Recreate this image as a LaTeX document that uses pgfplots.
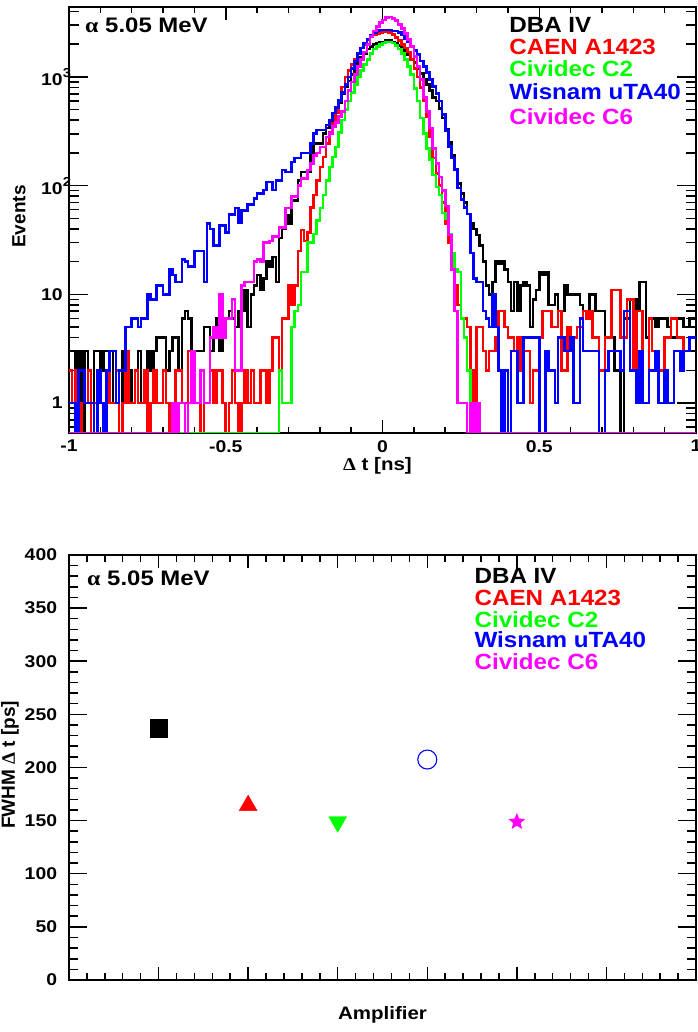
\documentclass[border=0pt]{standalone}
\usepackage{pgfplots}
\pgfplotsset{compat=1.18}
\usepackage{pgfplotstable}
\usepackage{fontspec}
\setmainfont{Liberation Sans}
\newfontfamily\symf{Liberation Serif}
\definecolor{rblack}{RGB}{0,0,0}
\definecolor{rred}{RGB}{255,0,0}
\definecolor{rgreen}{RGB}{0,255,0}
\definecolor{rblue}{RGB}{0,0,255}
\definecolor{rmag}{RGB}{255,0,255}
\newcommand\tkf{\fontsize{17}{17}\selectfont\bfseries}
\newcommand\lbf{\fontsize{18}{18}\selectfont\bfseries}
\newcommand\lbyf{\fontsize{19}{19}\selectfont\bfseries}
\newcommand\ttf{\fontsize{21}{21}\selectfont\bfseries}
\newcommand\lgf{\fontsize{22}{22}\selectfont\bfseries}
\newcommand\ex[1]{10\rlap{\raisebox{8pt}{\fontsize{13}{13}\selectfont\bfseries #1}}}

\pgfdeclareplotmark{rootstar}{%
  \pgfpathmoveto{\pgfpointpolar{90}{\pgfplotmarksize}}%
  \pgfpathlineto{\pgfpointpolar{126}{0.45*\pgfplotmarksize}}%
  \pgfpathlineto{\pgfpointpolar{162}{\pgfplotmarksize}}%
  \pgfpathlineto{\pgfpointpolar{198}{0.45*\pgfplotmarksize}}%
  \pgfpathlineto{\pgfpointpolar{234}{\pgfplotmarksize}}%
  \pgfpathlineto{\pgfpointpolar{270}{0.45*\pgfplotmarksize}}%
  \pgfpathlineto{\pgfpointpolar{306}{\pgfplotmarksize}}%
  \pgfpathlineto{\pgfpointpolar{342}{0.45*\pgfplotmarksize}}%
  \pgfpathlineto{\pgfpointpolar{18}{\pgfplotmarksize}}%
  \pgfpathlineto{\pgfpointpolar{54}{0.45*\pgfplotmarksize}}%
  \pgfpathclose
  \pgfusepathqfill}

% 200 bins of 0.01 ns from -1 to 1 (last row repeats the last bin)
\pgfplotstableread[row sep=\\,header=false]{
3\\3\\2\\3\\0\\3\\2\\1\\3\\3\\
2\\3\\3\\1\\3\\2\\0\\3\\3\\2\\
1\\2\\3\\1\\2\\3\\2\\3\\4\\4\\
4\\2\\3\\4\\4\\2\\6\\7\\6\\3\\
3\\3\\3\\5\\5\\3\\5\\6\\3\\6\\
6\\7\\6\\5\\7\\7\\11\\5\\10\\12\\
15\\11\\14\\20\\18\\22\\13\\33\\40\\53\\
45\\73\\73\\112\\133\\133\\133\\200\\245\\245\\
245\\300\\340\\375\\430\\465\\575\\700\\810\\920\\
1050\\1200\\1350\\1500\\1650\\1800\\1900\\2000\\2050\\2100\\
2100\\2150\\2150\\2100\\2050\\1950\\1850\\1700\\1600\\1450\\
1350\\1200\\1080\\950\\850\\750\\650\\600\\510\\420\\
330\\250\\190\\140\\105\\85\\70\\55\\45\\40\\
35\\28\\20\\12\\10\\13\\20\\19\\20\\17\\
13\\7\\13\\7\\12\\13\\12\\5\\9\\11\\
16\\15\\16\\8\\8\\10\\7\\7\\12\\10\\
10\\10\\10\\8\\7\\7\\10\\10\\7\\7\\
7\\4\\4\\4\\2\\2\\0\\6\\6\\9\\
9\\7\\13\\13\\4\\6\\6\\5\\6\\6\\
6\\5\\4\\4\\6\\6\\5\\5\\6\\6\\
6\\
}\tblack

\pgfplotstableread[row sep=\\,header=false]{
2\\1\\2\\0\\1\\1\\2\\0\\1\\2\\
1\\0\\2\\1\\1\\2\\0\\1\\3\\1\\
1\\2\\1\\1\\2\\0\\1\\2\\1\\1\\
2\\1\\0\\1\\2\\2\\1\\1\\3\\1\\
1\\1\\0\\1\\1\\2\\1\\2\\2\\1\\
0\\1\\2\\1\\0\\1\\2\\1\\2\\1\\
1\\2\\2\\1\\2\\4\\4\\2\\6\\6\\
12\\8\\12\\25\\39\\31\\37\\63\\82\\112\\
148\\184\\245\\310\\375\\465\\600\\810\\1000\\1150\\
1300\\1450\\1650\\1850\\2000\\2200\\2350\\2450\\2500\\2550\\
2600\\2600\\2550\\2450\\2300\\2150\\2000\\1850\\1700\\1450\\
1200\\1000\\800\\600\\430\\280\\180\\130\\100\\70\\
45\\30\\18\\12\\8\\6\\6\\5\\2\\1\\
5\\5\\3\\2\\3\\3\\4\\7\\7\\5\\
4\\4\\3\\4\\2\\3\\3\\1\\2\\2\\
4\\7\\7\\7\\5\\5\\7\\2\\2\\5\\
4\\4\\5\\5\\7\\6\\7\\4\\4\\2\\
2\\4\\4\\11\\11\\11\\4\\4\\9\\9\\
2\\7\\7\\1\\1\\6\\3\\3\\2\\2\\
4\\4\\6\\6\\4\\4\\3\\3\\4\\4\\
4\\
}\tred

\pgfplotstableread[row sep=\\,header=false]{
0\\0\\0\\0\\0\\0\\0\\0\\0\\0\\
0\\0\\0\\0\\0\\0\\0\\0\\0\\0\\
0\\0\\0\\0\\0\\0\\0\\0\\0\\0\\
0\\0\\0\\0\\0\\0\\0\\0\\0\\0\\
0\\0\\0\\0\\0\\0\\0\\0\\0\\0\\
0\\0\\0\\0\\0\\0\\0\\0\\0\\0\\
0\\0\\0\\0\\0\\0\\0\\2\\1\\1\\
1\\5\\7\\8\\16\\16\\30\\30\\36\\48\\
62\\82\\112\\148\\184\\226\\310\\400\\500\\600\\
720\\850\\1000\\1150\\1300\\1450\\1650\\1800\\1900\\2000\\
2050\\2100\\2100\\2050\\1950\\1800\\1650\\1450\\1250\\1050\\
780\\600\\420\\300\\220\\175\\125\\97\\82\\56\\
50\\36\\24\\17\\16\\6\\4\\2\\1\\0\\
0\\0\\0\\0\\0\\0\\0\\0\\0\\0\\
0\\0\\0\\0\\0\\0\\0\\0\\0\\0\\
0\\0\\0\\0\\0\\0\\0\\0\\0\\0\\
0\\0\\0\\0\\0\\0\\0\\0\\0\\0\\
0\\0\\0\\0\\0\\0\\0\\0\\0\\0\\
0\\0\\0\\0\\0\\0\\0\\0\\0\\0\\
0\\0\\0\\0\\0\\0\\0\\0\\0\\0\\
0\\
}\tgreen

\pgfplotstableread[row sep=\\,header=false]{
1\\1\\0\\2\\2\\1\\1\\1\\0\\2\\
1\\0\\2\\3\\3\\1\\2\\2\\5\\5\\
6\\6\\5\\6\\6\\10\\9\\9\\12\\12\\
10\\10\\17\\15\\13\\13\\21\\20\\18\\18\\
25\\25\\25\\13\\45\\40\\28\\28\\43\\43\\
37\\54\\54\\62\\46\\59\\59\\67\\67\\76\\
85\\85\\91\\108\\108\\91\\112\\112\\139\\133\\
133\\165\\180\\180\\200\\200\\200\\245\\303\\325\\
325\\325\\360\\400\\465\\520\\610\\715\\850\\1000\\
1200\\1400\\1650\\1850\\2050\\2200\\2400\\2550\\2650\\2700\\
2700\\2700\\2700\\2650\\2650\\2550\\2450\\2250\\2100\\1900\\
1750\\1600\\1400\\1250\\1100\\950\\820\\700\\600\\450\\
320\\230\\180\\140\\95\\75\\63\\55\\24\\14\\
13\\13\\7\\6\\5\\10\\5\\2\\0\\2\\
0\\3\\3\\1\\1\\4\\4\\4\\4\\4\\
0\\0\\3\\2\\2\\1\\4\\4\\3\\3\\
4\\1\\1\\6\\3\\3\\3\\3\\3\\0\\
0\\2\\3\\3\\3\\3\\2\\7\\7\\2\\
2\\1\\3\\1\\1\\2\\2\\3\\1\\1\\
2\\1\\1\\3\\3\\2\\3\\3\\4\\4\\
4\\
}\tblue

\pgfplotstableread[row sep=\\,header=false]{
0\\0\\0\\0\\0\\0\\0\\0\\0\\0\\
0\\0\\0\\0\\0\\0\\0\\0\\0\\0\\
0\\0\\0\\0\\0\\0\\0\\0\\0\\0\\
0\\0\\0\\1\\0\\1\\1\\0\\1\\3\\
1\\1\\2\\1\\1\\4\\5\\4\\10\\4\\
6\\6\\9\\2\\2\\12\\13\\13\\13\\20\\
21\\20\\30\\30\\31\\34\\34\\41\\41\\62\\
62\\79\\79\\100\\117\\117\\139\\160\\190\\200\\
226\\226\\280\\300\\350\\380\\430\\480\\600\\750\\
900\\1050\\1250\\1450\\1700\\2000\\2350\\2650\\2900\\3150\\
3350\\3500\\3550\\3450\\3300\\3050\\2800\\2500\\2200\\1900\\
1550\\1250\\950\\650\\480\\340\\220\\160\\120\\90\\
65\\35\\17\\7\\1\\1\\1\\0\\1\\0\\
1\\0\\0\\0\\0\\0\\0\\0\\0\\0\\
0\\0\\0\\0\\0\\0\\0\\0\\0\\0\\
0\\0\\0\\0\\0\\0\\0\\0\\0\\0\\
0\\0\\0\\0\\0\\0\\0\\0\\0\\0\\
0\\0\\0\\0\\0\\0\\0\\0\\0\\0\\
0\\0\\0\\0\\0\\0\\0\\0\\0\\0\\
0\\0\\0\\0\\0\\0\\0\\0\\0\\0\\
0\\
}\tmag

\pgfplotsset{
  rootax/.style={
    scale only axis, anchor=south west,
    tick align=inside,
    axis line style={line width=1.6pt},
    every tick/.style={line width=1.5pt, black},
    xticklabel style={font=\tkf, inner sep=0pt, yshift=-7pt, xscale=1.14},
    yticklabel style={font=\tkf, inner sep=0pt, xshift=-6pt, xscale=1.14},
  },
  hist/.style={const plot mark left, no marks, line width=2.6pt},
}

\begin{document}
\begin{tikzpicture}
\useasboundingbox (0,0) rectangle (697pt,1032pt);

% ---------------- top panel ----------------
\begin{axis}[rootax,
  at={(69pt,599pt)}, width=627pt, height=426pt,
  xmin=-1, xmax=1, ymode=log, ymin=0.53, ymax=4400,
  xtick={-1,-0.5,0,0.5,1}, xticklabels={-1,-0.5,0,0.5,1},
  minor x tick num=4,
  ytick={1,10,100,1000}, yticklabels={1,10,\ex{2},\ex{3}},
  minor ytick={0.6,0.7,0.8,0.9,2,3,4,5,6,7,8,9,20,30,40,50,60,70,80,90,200,300,400,500,600,700,800,900,2000,3000,4000},
  major tick length=13pt, minor tick length=6.5pt,
  ytick style={/pgfplots/major tick length=19pt,/pgfplots/minor tick length=10pt},
  xlabel={{\symf Δ} t [ns]}, ylabel={Events},
  xlabel style={at={(axis description cs:0.492,-0.0775)}, anchor=center, font=\lbf, xscale=1.14},
  ylabel style={at={(axis description cs:-0.0797,0.508)}, anchor=center, font=\lbyf},
]
\addplot[hist, rblack] table[x index=0, y index=0, x expr=\coordindex*0.01-1, y expr={max(\thisrowno{0},0.53)}] {\tblack};
\addplot[hist, rred] table[x index=0, y index=0, x expr=\coordindex*0.01-1, y expr={max(\thisrowno{0},0.53)}] {\tred};
\addplot[hist, rgreen] table[x index=0, y index=0, x expr=\coordindex*0.01-1, y expr={max(\thisrowno{0},0.53)}] {\tgreen};
\addplot[hist, rblue] table[x index=0, y index=0, x expr=\coordindex*0.01-1, y expr={max(\thisrowno{0},0.53)}] {\tblue};
\addplot[hist, rmag] table[x index=0, y index=0, x expr=\coordindex*0.01-1, y expr={max(\thisrowno{0},0.53)}] {\tmag};

\node[anchor=west, inner sep=0pt, font=\ttf, xscale=1.14] at (axis description cs:0.0255,0.958) {{\symf\fontsize{21}{21}\selectfont α} 5.05 MeV};
\node[anchor=west, inner sep=0pt, font=\lgf, xscale=1.1, text=rblack] at (axis description cs:0.702,0.958) {DBA IV};
\node[anchor=west, inner sep=0pt, font=\lgf, xscale=1.1, text=rred] at (axis description cs:0.702,0.907) {CAEN A1423};
\node[anchor=west, inner sep=0pt, font=\lgf, xscale=1.1, text=rgreen] at (axis description cs:0.702,0.856) {Cividec C2};
\node[anchor=west, inner sep=0pt, font=\lgf, xscale=1.1, text=rblue] at (axis description cs:0.702,0.801) {Wisnam uTA40};
\node[anchor=west, inner sep=0pt, font=\lgf, xscale=1.1, text=rmag] at (axis description cs:0.702,0.742) {Cividec C6};
\end{axis}

% ---------------- bottom panel ----------------
\begin{axis}[rootax,
  at={(69pt,52pt)}, width=627pt, height=425pt,
  xmin=0, xmax=7, ymin=0, ymax=400,
  xtick={0,1,2,3,4,5,6,7}, xticklabels={}, minor x tick num=4,
  ytick={0,50,100,150,200,250,300,350,400},
  yticklabels={0,50,100,150,200,250,300,350,400},
  minor y tick num=4,
  major tick length=13pt, minor tick length=7pt,
  ytick style={/pgfplots/major tick length=18pt,/pgfplots/minor tick length=9pt},
  yticklabel style={xshift=-5pt},
  xlabel={Amplifier}, ylabel={FWHM {\symf Δ} t [ps]},
  xlabel style={at={(axis description cs:0.5,-0.082)}, anchor=center, font=\lbf, xscale=1.14},
  ylabel style={at={(axis description cs:-0.094,0.506)}, anchor=center, font=\lbyf},
  clip=false,
]
\addplot[only marks, mark=square*, mark size=8.9pt, rblack, mark options={line width=0.3pt}] coordinates {(1,237)};
\addplot[only marks, mark=triangle*, mark size=10.4pt, rred, mark options={line width=0.3pt}] coordinates {(2,164.3)};
\addplot[only marks, mark=triangle*, mark size=10.4pt, rgreen, mark options={line width=0.3pt, rotate=180}] coordinates {(3,148.8)};
\addplot[only marks, mark=o, mark size=9.5pt, rblue, mark options={line width=1.1pt}] coordinates {(4,207.5)};
\addplot[only marks, mark=rootstar, mark size=8.8pt, rmag] coordinates {(5,148.9)};

\node[anchor=west, inner sep=0pt, font=\ttf, xscale=1.14] at (axis description cs:0.0287,0.946) {{\symf\fontsize{21}{21}\selectfont α} 5.05 MeV};
\node[anchor=west, inner sep=0pt, font=\lgf, xscale=1.1, text=rblack] at (axis description cs:0.6465,0.951) {DBA IV};
\node[anchor=west, inner sep=0pt, font=\lgf, xscale=1.1, text=rred] at (axis description cs:0.6465,0.899) {CAEN A1423};
\node[anchor=west, inner sep=0pt, font=\lgf, xscale=1.1, text=rgreen] at (axis description cs:0.6465,0.847) {Cividec C2};
\node[anchor=west, inner sep=0pt, font=\lgf, xscale=1.1, text=rblue] at (axis description cs:0.6465,0.800) {Wisnam uTA40};
\node[anchor=west, inner sep=0pt, font=\lgf, xscale=1.1, text=rmag] at (axis description cs:0.6465,0.748) {Cividec C6};
\end{axis}
\end{tikzpicture}
\end{document}
